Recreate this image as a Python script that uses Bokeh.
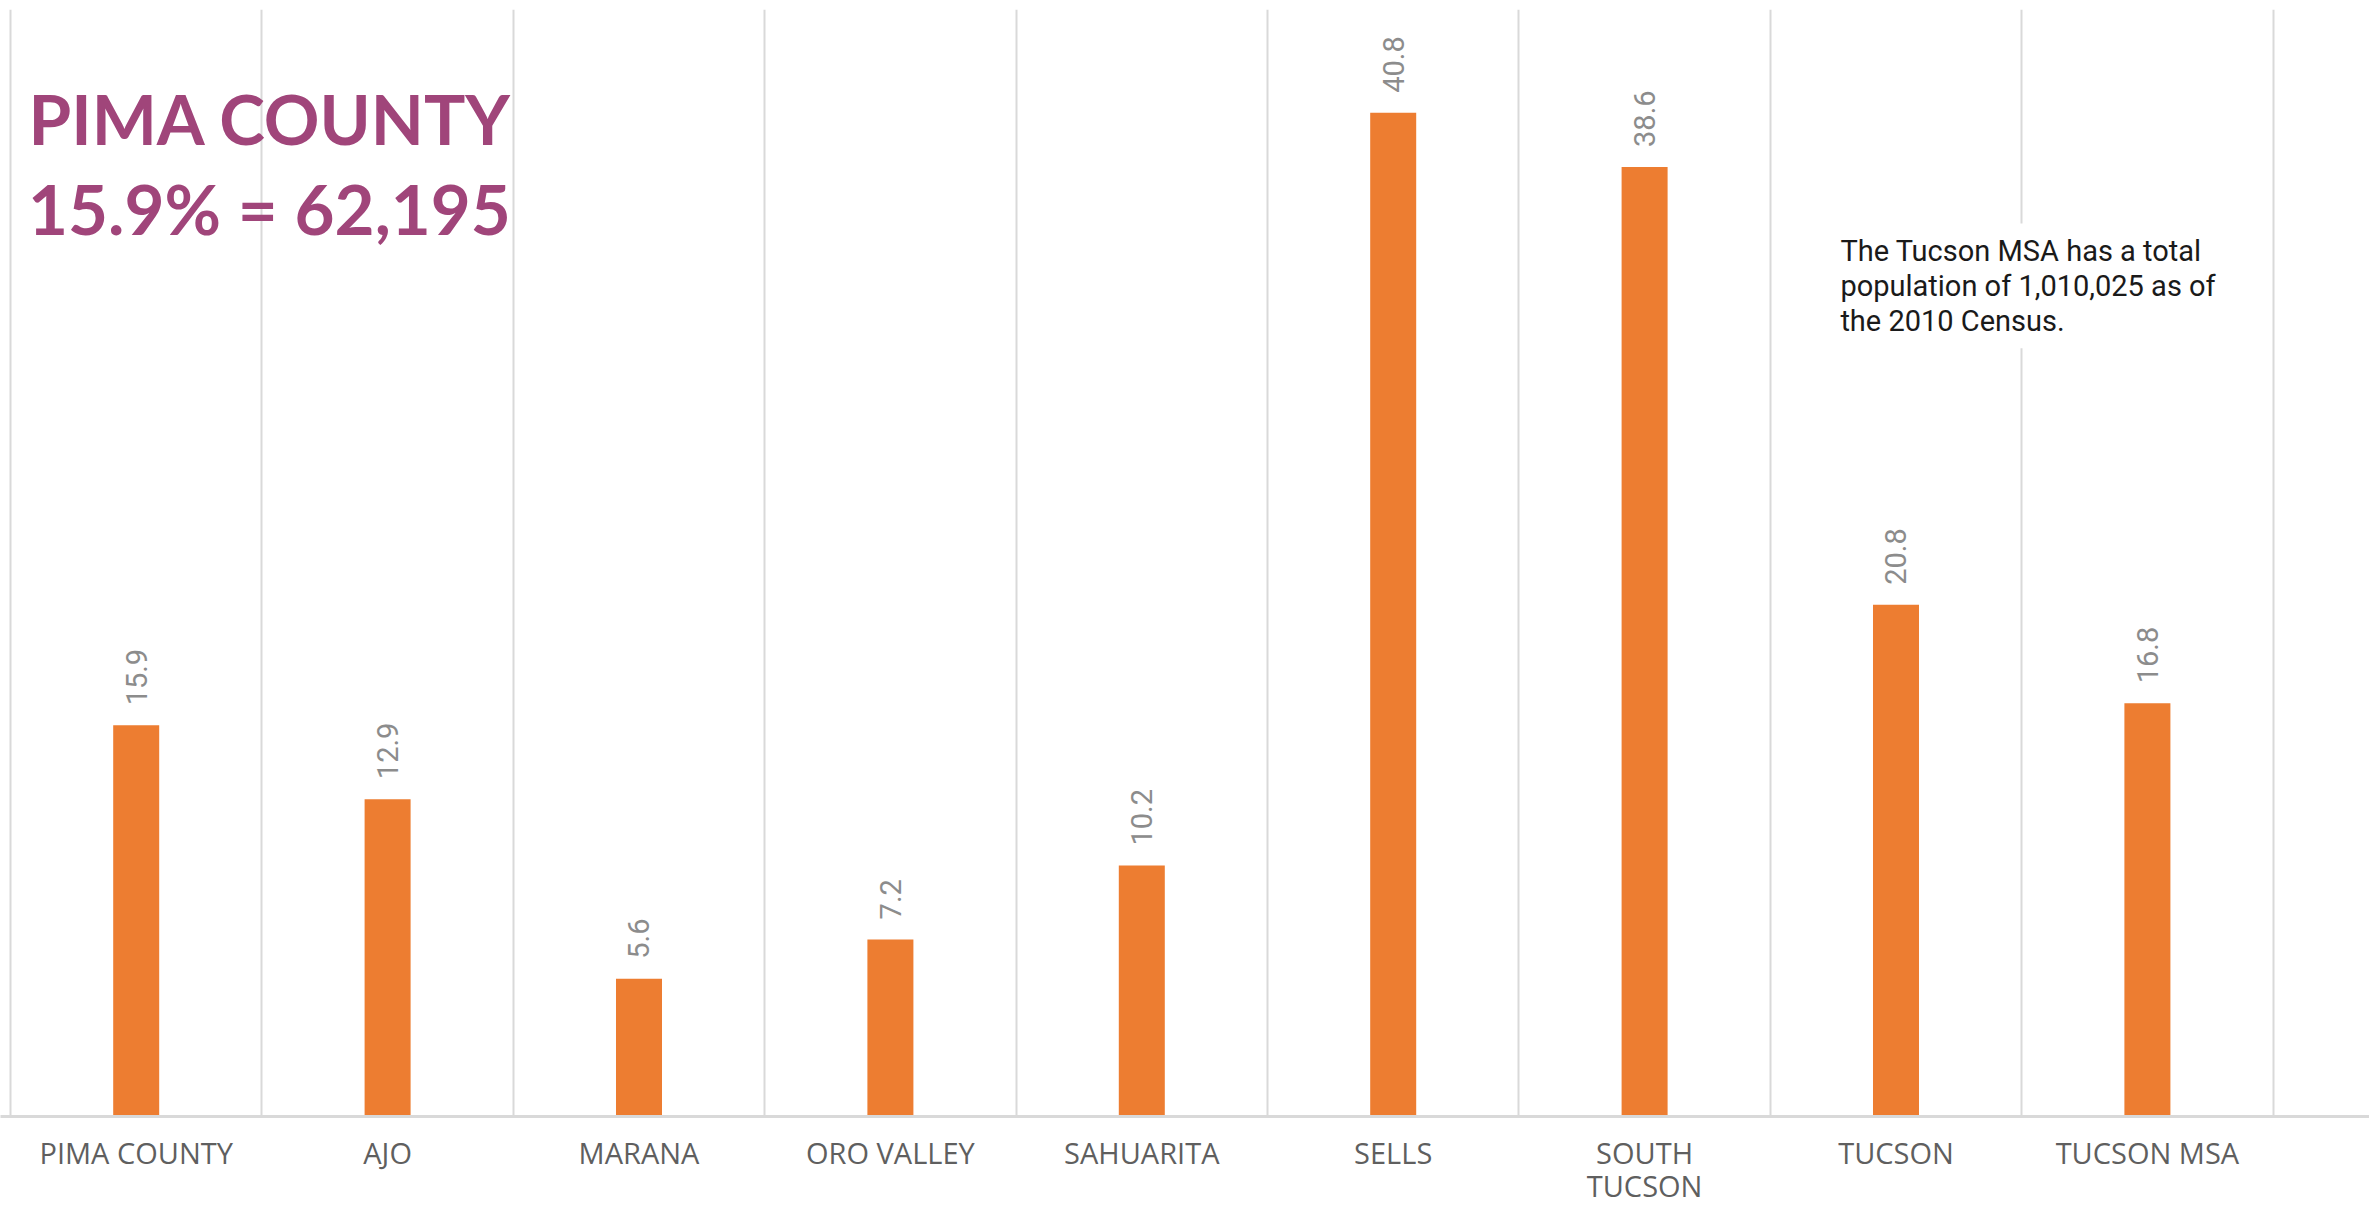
import math
from bokeh.plotting import figure
from bokeh.models import (ColumnDataSource, LabelSet, Label, FixedTicker,
                          LinearAxis, Range1d, Grid)
from bokeh.core.properties import value
from bokeh.embed import file_html
from bokeh.resources import INLINE

# ---- data ----
categories = ["PIMA COUNTY", "AJO", "MARANA", "ORO VALLEY", "SAHUARITA",
              "SELLS", "SOUTH\nTUCSON", "TUCSON", "TUCSON MSA"]
values = [15.9, 12.9, 5.6, 7.2, 10.2, 40.8, 38.6, 20.8, 16.8]
title_line1 = "PIMA COUNTY"
title_line2 = "15.9% = 62,195"
note_text = "The Tucson MSA has a total\npopulation of 1,010,025 as of\nthe 2010 Census."

# ---- layout helpers ----
W, H = 2369, 1206
CAT_PX = 251.4          # pixel width of one category band
FRAME_TOP = 9
FRAME_H = 1107
positions = [i + 0.5 for i in range(len(categories))]
boundaries = list(range(len(categories) + 1))
x0 = -10 / CAT_PX
x1 = x0 + W / CAT_PX

source = ColumnDataSource(dict(
    x=positions,
    top=values,
    label=["%.1f" % v for v in values],
))

p = figure(frame_width=W, frame_height=FRAME_H,
           x_range=Range1d(x0, x1), y_range=Range1d(0, 45),
           output_backend="svg", toolbar_location=None,
           x_axis_location=None, y_axis_location=None,
           min_border_left=0, min_border_right=0,
           min_border_top=FRAME_TOP, min_border_bottom=H - FRAME_TOP - FRAME_H)
p.outline_line_color = None
p.background_fill_color = "white"
p.border_fill_color = "white"

# drop any default grids, then add the vertical grid at category boundaries
p.center = [c for c in p.center if not isinstance(c, Grid)]
grid = Grid(dimension=0, ticker=FixedTicker(ticks=boundaries),
            grid_line_color="#d9d9d9", grid_line_width=2)
p.add_layout(grid)

# x axis with category labels
xaxis = LinearAxis(ticker=FixedTicker(ticks=positions),
                   major_label_overrides={pos: cat for pos, cat in zip(positions, categories)})
xaxis.axis_line_color = "#d9d9d9"
xaxis.axis_line_width = 3
xaxis.major_tick_line_color = None
xaxis.minor_tick_line_color = None
xaxis.major_tick_out = 0
xaxis.major_tick_in = 0
xaxis.major_label_standoff = 16
xaxis.major_label_text_font = "Open Sans"
xaxis.major_label_text_font_size = "29px"
xaxis.major_label_text_line_height = 0.86
xaxis.major_label_text_color = "#5f5f5f"
p.add_layout(xaxis, "below")

# bars
p.vbar(x="x", top="top", width=0.183, source=source,
       fill_color="#ED7D31", line_color=None)

# rotated value labels
labels = LabelSet(x="x", y="top", text="label", source=source,
                  angle=math.pi / 2, text_align="left", text_baseline="middle",
                  y_offset=20, text_font=value("Roboto"),
                  text_font_size="29px", text_color="#8c8c8c")
p.add_layout(labels)

# title text (two centered lines)
p.add_layout(Label(x=1.034, y=40.55, text=title_line1, text_align="center",
                   text_baseline="alphabetic", text_font="Lato",
                   text_font_style="bold", text_font_size="69px",
                   text_color="#A0457A"))
p.add_layout(Label(x=1.030, y=36.9, text=title_line2, text_align="center",
                   text_baseline="alphabetic", text_font="Lato",
                   text_font_style="bold", text_font_size="69px",
                   text_color="#A0457A"))

# note box
p.add_layout(Label(x=7.239, y=36.3, text=note_text, text_align="left",
                   text_baseline="top", text_font="Roboto",
                   text_font_size="29px", text_color="#1a1a1a",
                   text_line_height=1.04,
                   background_fill_color="white", padding=10))

open("out.html", "w").write(file_html(p, INLINE))
